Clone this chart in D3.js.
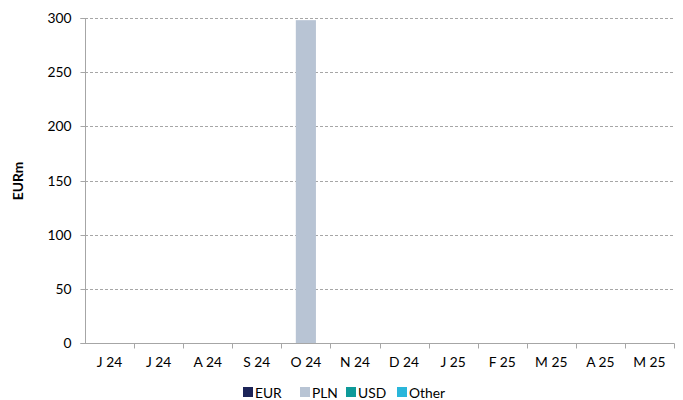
<!DOCTYPE html>
<html><head><meta charset="utf-8">
<script src="https://cdn.jsdelivr.net/npm/d3@7"></script>
<style>body{margin:0;background:#fff}text{font-family:Lato,"Open Sans",sans-serif}</style>
</head><body><svg id="c" width="683" height="400"></svg>
<script>
const categories = ["J 24","J 24","A 24","S 24","O 24","N 24","D 24","J 25","F 25","M 25","A 25","M 25"];
const seriesNames = ["EUR","PLN","USD","Other"];
const EUR   = [0,0,0,0,0,0,0,0,0,0,0,0];
const PLN   = [0,0,0,0,298,0,0,0,0,0,0,0];
const USD   = [0,0,0,0,0,0,0,0,0,0,0,0];
const Other = [0,0,0,0,0,0,0,0,0,0,0,0];
const yTicks = [0,50,100,150,200,250,300];
const colors = ["#1c2458","#b8c4d4","#0e9a99","#2ab6da"];

const svg = d3.select("#c");
const m = {l:85, r:674, t:18, b:343};
const x = d3.scaleBand().domain(d3.range(categories.length)).range([m.l, m.r]).paddingInner(0).paddingOuter(0);
const y = d3.scaleLinear().domain([0,300]).range([m.b, m.t]);
const fs = 13.8;

// gridlines
svg.append("g").selectAll("line").data(yTicks.filter(d=>d>0)).join("line")
  .attr("x1", m.l).attr("x2", m.r+1).attr("y1", d=>Math.round(y(d))+0.5).attr("y2", d=>Math.round(y(d))+0.5)
  .attr("stroke","#a6a6a6").attr("stroke-dasharray","3,2").attr("stroke-width",1);

// stacked bars
const rows = categories.map((c,i)=>({i, EUR:EUR[i], PLN:PLN[i], USD:USD[i], Other:Other[i]}));
const stack = d3.stack().keys(seriesNames)(rows);
const bw = x.bandwidth()*0.41;
svg.append("g").selectAll("g").data(stack).join("g").attr("fill",(d,k)=>colors[k])
  .selectAll("rect").data(d=>d.filter(s=>s[1]-s[0]>0)).join("rect")
  .attr("x", d=>x(d.data.i)+x.bandwidth()/2-bw/2).attr("width", bw)
  .attr("y", d=>y(d[1])).attr("height", d=>y(d[0])-y(d[1]));

// y axis
const ya = svg.append("g").attr("transform",`translate(${m.l+0.5},0)`)
  .call(d3.axisLeft(y).tickValues(yTicks).tickSize(5).tickPadding(9));
ya.select(".domain").attr("stroke","#a6a6a6").attr("d",`M-5,${m.t+0.5}H0V${m.b+0.5}H-5`);
ya.selectAll(".tick line").attr("stroke","#a6a6a6");
ya.selectAll(".tick").attr("transform", d=>`translate(0,${Math.round(y(d))+0.5})`);
ya.selectAll("text").attr("font-size",fs).attr("fill","#000").style("font-family","Lato,sans-serif");

// x axis
const xa = svg.append("g").attr("transform",`translate(0,${m.b+0.5})`);
xa.append("line").attr("x1",m.l).attr("x2",m.r+0.5).attr("stroke","#a6a6a6");
xa.selectAll("line.t").data(d3.range(1,categories.length+1)).join("line").attr("class","t")
  .attr("x1", i=>Math.round(m.l + i*x.bandwidth())+0.5).attr("x2", i=>Math.round(m.l + i*x.bandwidth())+0.5)
  .attr("y1",0).attr("y2",5).attr("stroke","#a6a6a6");
xa.selectAll("text").data(categories).join("text")
  .attr("x",(d,i)=>x(i)+x.bandwidth()/2).attr("y",23).attr("text-anchor","middle")
  .attr("font-size",fs).text(d=>d);

// y label
svg.append("text").attr("transform","translate(23,181) rotate(-90)").attr("text-anchor","middle")
  .attr("font-size",fs).attr("font-weight","bold").text("EURm");

// legend
const legX = [243, 300, 346, 397];
const lg = svg.append("g").selectAll("g").data(seriesNames).join("g")
  .attr("transform",(d,k)=>`translate(${legX[k]},387)`);
lg.append("rect").attr("width",10).attr("height",10).attr("fill",(d,k)=>colors[k]);
lg.append("text").attr("x",12).attr("y",10.5).attr("font-size",fs).text(d=>d);
</script></body></html>
